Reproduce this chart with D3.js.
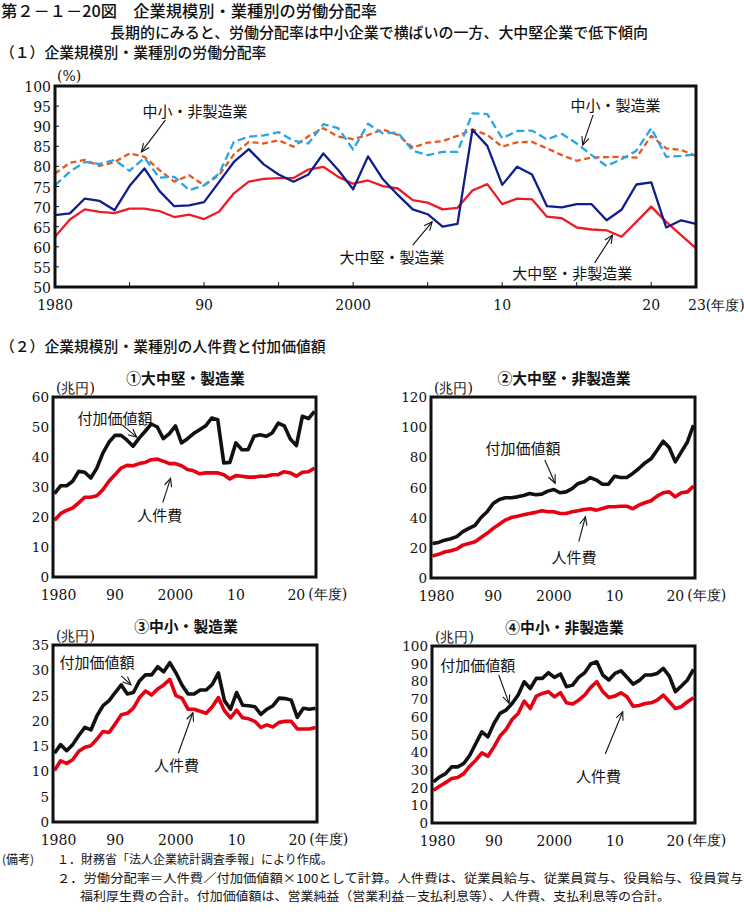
<!DOCTYPE html>
<html><head><meta charset="utf-8">
<script src="https://cdn.jsdelivr.net/npm/d3@7"></script>
<style>body{margin:0;background:#fff}</style>
</head><body><svg id="c" width="744" height="912"></svg>
<script>
// ---------- DATA ----------
const years = [1980,1981,1982,1983,1984,1985,1986,1987,1988,1989,1990,1991,1992,1993,1994,1995,1996,1997,1998,1999,
  2000,2001,2002,2003,2004,2005,2006,2007,2008,2009,2010,2011,2012,2013,2014,2015,2016,2017,2018,2019,2020,2021,2022,2023];

// (1) labour share (%)
const ratioLargeMfg = [67.9,68.3,72.0,71.4,69.1,75.1,79.5,73.9,70.1,70.3, 71.1,76.1,81.1,84.3,80.5,78.0,76.2,78.0,83.2,79.1,
  74.3,82.5,76.8,72.9,69.3,68.1,65.0,65.7,89.1,85.1, 75.4,79.9,78.0,70.1,69.8,70.6,70.6,66.6,69.2,75.5, 76.0,64.8,66.6,65.7];
const ratioLargeNonMfg = [62.5,66.8,69.3,68.7,68.4,69.5,69.5,68.9,67.4,68.0, 66.9,68.7,73.3,76.2,76.9,77.1,77.1,79.2,79.9,77.4,
  75.7,76.5,75.1,74.5,71.6,71.0,69.3,69.7,74.0,75.6, 70.6,72.0,71.8,67.5,67.1,64.8,64.3,64.1,62.5,66.2, 70.0,66.2,62.9,59.6];
const ratioSmallNonMfg = [78.2,80.9,81.6,80.1,81.1,83.2,82.4,79.1,76.2,77.8, 75.3,77.8,83.0,86.1,85.7,86.5,84.9,87.5,89.5,87.4,
  86.8,87.8,89.2,87.8,84.7,85.9,86.3,87.6,89.2,87.8, 84.9,86.0,86.1,84.5,82.8,81.4,82.2,82.3,82.4,82.2, 87.6,84.5,84.1,82.6];
const ratioSmallMfg = [75.3,78.7,81.1,80.6,81.6,78.9,82.1,77.2,77.4,74.1, 75.3,78.2,86.1,87.4,87.7,88.5,86.4,85.7,90.5,89.5,
  84.2,90.6,88.2,88.4,83.9,82.8,83.6,83.6,93.2,93.0, 87.0,88.8,88.9,86.7,88.1,85.7,82.8,80.1,81.8,83.9, 89.5,82.4,82.6,83.0];

// (2) value added & labour cost (trillion yen)
const vaLargeMfg = [27.8,30.4,30.4,31.9,35.2,34.9,33.0,36.3,41.3,44.9, 47.2,47.2,45.6,43.6,46.3,48.6,51.0,50.0,46.1,47.8,
  50.4,44.7,46.1,47.8,49.1,50.4,53.0,52.4,38.0,38.2, 44.7,42.4,42.4,46.9,47.4,46.9,48.0,51.3,50.4,46.0, 43.8,53.6,52.8,55.2];
const lcLargeMfg = [18.9,21.1,22.2,23.0,24.7,26.6,26.6,27.1,29.1,31.9, 34.1,36.3,37.2,37.1,37.8,38.2,39.1,39.3,38.6,37.8,
  37.8,37.1,35.8,35.4,34.4,34.7,34.7,34.7,34.1,32.7, 33.8,33.6,33.3,33.3,33.6,33.6,34.1,34.1,35.1,34.7, 33.6,34.9,35.1,36.3];
const vaLargeNonMfg = [22.9,23.6,25.1,26.0,27.4,30.7,32.9,34.9,40.1,43.9, 49.4,52.1,53.2,53.2,53.8,54.7,56.0,55.2,55.6,57.6,
  58.7,56.5,57.1,59.3,62.7,63.8,66.6,64.9,62.2,62.2, 67.5,66.6,66.6,69.3,72.6,76.3,79.0,84.7,90.7,86.5, 77.0,83.6,90.2,101.3];
const lcLargeNonMfg = [14.6,15.7,17.2,18.1,19.2,21.8,22.9,24.0,26.9,29.6, 32.9,35.7,38.4,40.1,41.0,41.9,42.8,43.5,44.6,43.9,
  43.9,42.8,42.8,43.9,44.6,45.4,45.9,45.0,46.1,47.2, 47.2,47.6,47.6,45.9,48.3,49.9,51.2,54.3,56.5,57.1, 53.8,56.5,57.1,60.9];
const vaSmallMfg = [13.6,15.3,14.1,15.3,17.1,18.7,18.2,21.0,23.0,24.0, 25.6,27.1,25.3,25.6,27.9,29.1,29.1,30.7,29.7,31.5,
  29.5,27.1,25.3,25.3,26.1,26.1,27.2,29.5,24.0,22.3, 25.6,23.1,23.0,22.8,21.3,22.3,23.0,24.5,24.4,24.1, 20.7,22.5,22.3,22.5];
const lcSmallMfg = [10.2,12.1,11.6,12.3,14.0,14.8,15.1,16.4,17.9,17.7, 19.4,21.2,21.5,22.5,24.6,25.9,25.1,26.3,27.1,28.2,
  25.0,24.5,22.3,22.3,21.9,21.5,22.8,24.6,22.0,20.6, 22.1,20.6,20.4,19.9,18.7,19.2,18.8,19.7,19.9,19.9, 18.4,18.4,18.4,18.7];
const vaSmallNonMfg = [23.2,26.0,27.9,31.7,31.7,33.6,38.3,44.9,51.5,48.7, 56.2,61.9,63.8,67.5,72.3,79.8,76.0,81.7,81.7,84.9,
  82.3,84.2,77.0,77.9,82.3,84.9,89.8,91.1,83.6,80.8, 84.5,86.0,82.3,78.5,80.4,83.6,83.6,84.5,87.4,83.0, 74.2,77.4,80.8,86.8];
const lcSmallNonMfg = [18.5,20.8,22.8,25.1,25.7,27.9,32.1,35.5,39.6,37.7, 43.0,49.1,52.8,58.5,61.9,68.9,64.7,71.7,73.2,74.2,
  71.3,73.6,67.9,67.2,69.4,72.3,76.6,79.8,74.2,70.9, 71.7,73.6,71.3,66.0,66.4,67.5,67.9,69.4,72.3,68.5, 64.7,65.7,68.5,70.8];

const topYTicks = [50,55,60,65,70,75,80,85,90,95,100];
const topXMinor = [1985,1990,1995,2000,2005,2010,2015,2020];
const topXLabels = [[1980,"1980"],[1990,"90"],[2000,"2000"],[2010,"10"],[2020,"20"]];
const panelXLabels = [[1980,"1980"],[1990,"90"],[2000,"2000"],[2010,"10"],[2020,"20"]];

// ---------- DRAW ----------
const svg = d3.select("#c");
const JP = "'Noto Sans CJK JP','Noto Sans',sans-serif";
const NUM = "'DejaVu Serif','Liberation Serif',serif";

function txt(x, y, s, opt = {}) {
  return svg.append("text").attr("x", x).attr("y", y).text(s)
    .attr("font-family", opt.font || JP).attr("font-size", opt.size || 15)
    .attr("font-weight", opt.weight || 400)
    .attr("text-anchor", opt.anchor || "start")
    .attr("dominant-baseline", opt.base || "central")
    .attr("fill", "#111");
}
function arrow(x1, y1, x2, y2) {
  svg.append("line").attr("x1", x1).attr("y1", y1).attr("x2", x2).attr("y2", y2)
    .attr("stroke", "#111").attr("stroke-width", 1.1);
  const a = Math.atan2(y2 - y1, x2 - x1), L = 9, w = 0.42;
  const p = [[x2 - L * Math.cos(a - w), y2 - L * Math.sin(a - w)], [x2, y2], [x2 - L * Math.cos(a + w), y2 - L * Math.sin(a + w)]];
  svg.append("path").attr("d", d3.line()(p)).attr("fill", "none").attr("stroke", "#111").attr("stroke-width", 1.1);
}

// titles
txt(1, 9.5, "第２－１－20図　企業規模別・業種別の労働分配率", {size: 15.5, weight: 500})
  .attr("textLength", 376).attr("lengthAdjust", "spacingAndGlyphs");
txt(110, 31, "長期的にみると、労働分配率は中小企業で横ばいの一方、大中堅企業で低下傾向", {size: 14.8, weight: 500})
  .attr("textLength", 538).attr("lengthAdjust", "spacingAndGlyphs");
txt(0, 51, "（１）企業規模別・業種別の労働分配率", {size: 14.8, weight: 500});

// ---- top chart ----
const T = {l: 55, r: 696, t: 86, b: 287};
const tx = d3.scaleLinear().domain([1980, 2023]).range([T.l, T.r]);
const ty = d3.scaleLinear().domain([50, 100]).range([T.b, T.t]);

const topSeries = [
  {v: ratioSmallNonMfg, c: "#e8581c", dash: "6,3.5"},
  {v: ratioSmallMfg, c: "#27a6e4", dash: "8,4"},
  {v: ratioLargeNonMfg, c: "#ee1c24", dash: null},
  {v: ratioLargeMfg, c: "#0f1f8a", dash: null}
];
const tline = d3.line().x((d, i) => tx(years[i])).y(d => ty(d));
topSeries.forEach(s => {
  svg.append("path").attr("d", tline(s.v)).attr("fill", "none").attr("stroke", s.c)
    .attr("stroke-width", 2.3).attr("stroke-dasharray", s.dash).attr("stroke-linejoin", "round");
});
// ticks inside
topYTicks.forEach(v => svg.append("line").attr("x1", T.l).attr("x2", T.l + 4).attr("y1", ty(v)).attr("y2", ty(v)).attr("stroke", "#111"));
topXMinor.forEach(v => svg.append("line").attr("x1", tx(v)).attr("x2", tx(v)).attr("y1", T.b).attr("y2", T.b - 5).attr("stroke", "#111"));
svg.append("rect").attr("x", T.l).attr("y", T.t).attr("width", T.r - T.l).attr("height", T.b - T.t)
  .attr("fill", "none").attr("stroke", "#111").attr("stroke-width", 3);
topYTicks.forEach(v => txt(T.l - 4, ty(v) + 1, v, {font: NUM, size: 14, anchor: "end"}));
topXLabels.forEach(([y, s]) => txt(tx(y), 305, s, {font: NUM, size: 14, anchor: "middle"}));
txt(tx(2023) - 8, 305, "23(年度)", {font: NUM, size: 14});
txt(T.l + 2, 76, "(%)", {font: NUM, size: 14});

// annotations top
txt(tx(1989.4), ty(94), "中小・非製造業", {anchor: "middle"});
arrow(tx(1987.4), ty(91.5), tx(1985.8), ty(83.6));
txt(tx(2017.6), ty(95.5), "中小・製造業", {anchor: "middle"});
arrow(tx(2016.1), ty(92.8), tx(2015.4), ty(85.3));
txt(tx(2002.6), ty(57.5), "大中堅・製造業", {anchor: "middle"});
arrow(tx(2004.0), ty(60.4), tx(2005.3), ty(66.2));
txt(tx(2014.7), ty(53.5), "大中堅・非製造業", {anchor: "middle"});
arrow(tx(2016.2), ty(56.0), tx(2017.4), ty(62.9));

// ---- section 2 ----
txt(0, 345, "（２）企業規模別・業種別の人件費と付加価値額", {size: 14.8, weight: 500});

function panel(p) {
  const x = d3.scaleLinear().domain([1980, 2023]).range([p.l + 1.5, p.r - 1.5]);
  const y = d3.scaleLinear().domain([0, p.max]).range([p.b, p.t]);
  const ln = d3.line().x((d, i) => x(years[i])).y(d => y(d));
  svg.append("path").attr("d", ln(p.va)).attr("fill", "none").attr("stroke", "#111").attr("stroke-width", 3.6).attr("stroke-linejoin", "round");
  svg.append("path").attr("d", ln(p.lc)).attr("fill", "none").attr("stroke", "#e60012").attr("stroke-width", 3.6).attr("stroke-linejoin", "round");
  svg.append("rect").attr("x", p.l).attr("y", p.t).attr("width", p.r - p.l).attr("height", p.b - p.t)
    .attr("fill", "none").attr("stroke", "#111").attr("stroke-width", 3);
  d3.range(0, p.max + 0.001, p.step).forEach(v => txt(p.l - 4, y(v), v, {font: NUM, size: 13.5, anchor: "end"}));
  panelXLabels.forEach(([yr, s]) => txt(x(yr) + (yr === 1980 ? 4 : 0), p.b + 17.5, s, {font: NUM, size: 14, anchor: "middle"}));
  txt(x(2020) + 12, p.b + 16.5, "(年度)", {font: NUM, size: 14});
  txt(p.l + 3, p.t - 9, "(兆円)", {font: NUM, size: 14});
  txt((p.l + p.r) / 2 + 1, p.t - 20, p.title, {size: 14.8, weight: 700, anchor: "middle"});
  txt(x(p.aVA[0]), y(p.aVA[1]), "付加価値額", {anchor: "middle"});
  arrow(x(p.arVA[0]), y(p.arVA[1]), x(p.arVA[2]), y(p.arVA[3]));
  txt(x(p.aLC[0]), y(p.aLC[1]), "人件費", {anchor: "middle"});
  arrow(x(p.arLC[0]), y(p.arLC[1]), x(p.arLC[2]), y(p.arLC[3]));
}

panel({l: 53, r: 316, t: 397, b: 577, max: 60, step: 10, va: vaLargeMfg, lc: lcLargeMfg, title: "①大中堅・製造業",
  aVA: [1990.0, 53.3], arVA: [1991.2, 50.7, 1993.6, 46.6], aLC: [1997.4, 20.7], arLC: [1997.9, 24.8, 1999.2, 32.9]});
panel({l: 431, r: 695, t: 397, b: 578, max: 120, step: 20, va: vaLargeNonMfg, lc: lcLargeNonMfg, title: "②大中堅・非製造業",
  aVA: [1994.9, 86.2], arVA: [1998.5, 78.2, 2000.2, 62.8], aLC: [2003.3, 14.1], arLC: [2004.1, 24.1, 2005.2, 40.6]});
panel({l: 53, r: 317, t: 645, b: 822, max: 35, step: 5, va: vaSmallMfg, lc: lcSmallMfg, title: "③中小・製造業",
  aVA: [1987.0, 31.7], arVA: [1991.0, 28.9, 1992.6, 27.1], aLC: [2000.1, 11.3], arLC: [2000.4, 13.6, 2002.8, 21.6]});
panel({l: 432, r: 695, t: 646, b: 823, max: 100, step: 10, va: vaSmallNonMfg, lc: lcSmallNonMfg, title: "④中小・非製造業",
  aVA: [1987.3, 89.8], arVA: [1990.8, 83.6, 1992.5, 67.6], aLC: [2007.3, 27.1], arLC: [2008.4, 39.0, 2011.3, 62.9]});

// ---- notes ----
txt(2, 858, "(備考)", {size: 12});
txt(57, 858, "１．財務省「法人企業統計調査季報」により作成。", {size: 12});
txt(57, 877, "２．労働分配率＝人件費／付加価値額×100として計算。人件費は、従業員給与、従業員賞与、役員給与、役員賞与", {size: 12})
  .attr("textLength", 686).attr("lengthAdjust", "spacingAndGlyphs");
txt(80, 895, "福利厚生費の合計。付加価値額は、営業純益（営業利益－支払利息等）、人件費、支払利息等の合計。", {size: 12})
  .attr("textLength", 590).attr("lengthAdjust", "spacingAndGlyphs");
</script></body></html>
